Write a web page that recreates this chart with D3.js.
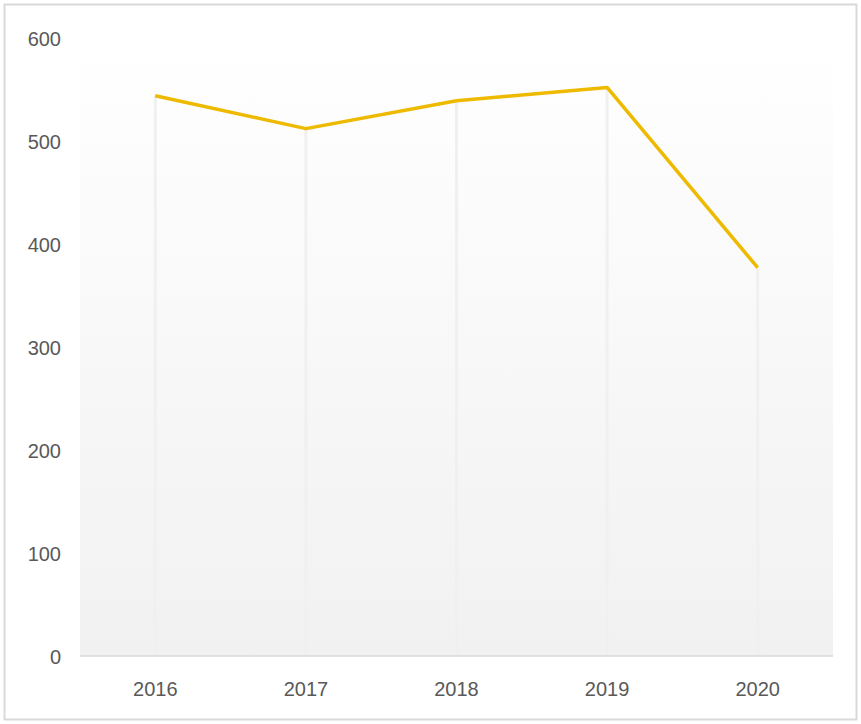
<!DOCTYPE html>
<html>
<head>
<meta charset="utf-8">
<title>Line chart</title>
<script src="https://cdn.jsdelivr.net/npm/d3@7"></script>
<style>
  body { margin: 0; background: #fff; }
</style>
</head>
<body>
<div id="chart"></div>
<script>
	// data
	var years = ["2016", "2017", "2018", "2019", "2020"];
	var values = [544, 512, 539, 552, 377];
	var yTicks = [0, 100, 200, 300, 400, 500, 600];

	var width = 861, height = 724;
	var margin = {top: 38, right: 28, bottom: 68, left: 80};

	var svg = d3.select("#chart").append("svg")
		.attr("width", width)
		.attr("height", height);

	// outer frame
	svg.append("rect")
		.attr("x", 4.5).attr("y", 4.5)
		.attr("width", width - 9).attr("height", height - 9)
		.style("fill", "#fff")
		.style("stroke", "#d9d9d9")
		.style("stroke-width", 2);

	// soft gradient for plot area
	var grad = svg.append("defs").append("linearGradient")
		.attr("id", "bg").attr("x1", 0).attr("y1", 0).attr("x2", 0).attr("y2", 1);
	grad.append("stop").attr("offset", "0%").attr("stop-color", "#ffffff");
	grad.append("stop").attr("offset", "100%").attr("stop-color", "#f1f1f1");

	var x = d3.scaleBand()
		.domain(years)
		.range([margin.left, width - margin.right]);

	var y = d3.scaleLinear()
		.domain([0, 600])
		.range([height - margin.bottom, margin.top]);

	svg.append("rect")
		.attr("x", margin.left).attr("y", y(600))
		.attr("width", width - margin.left - margin.right)
		.attr("height", y(0) - y(600))
		.style("fill", "url(#bg)");

	// faint vertical lines at each category
	svg.selectAll("line.vline").data(years).enter().append("line")
		.attr("class", "vline")
		.attr("x1", function(d) { return x(d) + x.bandwidth() / 2; })
		.attr("x2", function(d) { return x(d) + x.bandwidth() / 2; })
		.attr("y1", function(d, i) { return y(values[i]); })
		.attr("y2", y(0))
		.style("stroke", "#f0f0f0")
		.style("stroke-width", 3);

	// baseline
	svg.append("line")
		.attr("x1", margin.left).attr("x2", width - margin.right)
		.attr("y1", y(0)).attr("y2", y(0))
		.style("stroke", "#d9d9d9")
		.style("stroke-width", 1.5);

	// y axis labels
	var yAxis = svg.append("g")
		.attr("transform", "translate(" + 61 + ",0)")
		.call(d3.axisLeft(y).tickValues(yTicks).tickSize(0).tickPadding(0));
	yAxis.select(".domain").remove();

	// x axis labels
	var xAxis = svg.append("g")
		.attr("transform", "translate(0," + (y(0) + 26) + ")")
		.call(d3.axisBottom(x).tickSize(0).tickPadding(0));
	xAxis.select(".domain").remove();

	svg.selectAll(".tick text")
		.style("font-family", "'Liberation Sans', sans-serif")
		.style("font-size", "20px")
		.style("fill", "#595959");
	yAxis.selectAll(".tick text").attr("dy", "0.35em");
	xAxis.selectAll(".tick text").attr("dy", "0.71em");

	// the line
	var line = d3.line()
		.x(function(d, i) { return x(years[i]) + x.bandwidth() / 2; })
		.y(function(d) { return y(d); });

	svg.append("path")
		.datum(values)
		.attr("d", line)
		.style("fill", "none")
		.style("stroke", "#EDBA00")
		.style("stroke-width", 3.5)
		.style("stroke-linejoin", "round");
</script>
</body>
</html>
